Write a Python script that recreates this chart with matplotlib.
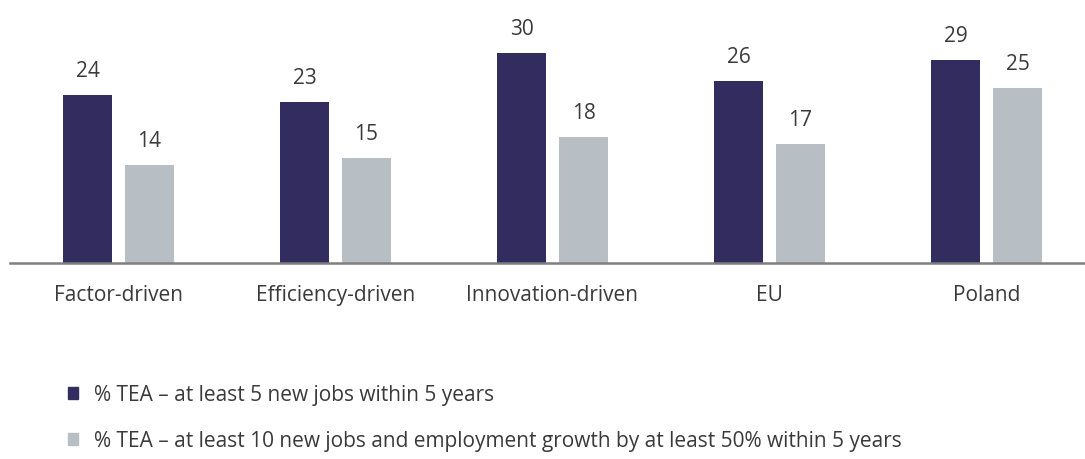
import numpy as np
import matplotlib.pyplot as plt
from matplotlib.patches import Patch

# Share of TEA with high job-growth expectations, by economy group
categories = ['Factor-driven', 'Efficiency-driven', 'Innovation-driven', 'EU', 'Poland']
jobs_5 = [24, 23, 30, 26, 29]
jobs_10 = [14, 15, 18, 17, 25]
series_labels = ['% TEA \u2013 at least 5 new jobs within 5 years',
                 '% TEA \u2013 at least 10 new jobs and employment growth by at least 50% within 5 years']

dark = '#332c5e'
light = '#b7bec4'
text_col = '#3a3a3a'
fs = 15

plt.rcParams['font.family'] = ['Open Sans', 'DejaVu Sans']

fig = plt.figure(figsize=(10.85, 4.59), dpi=100)
ax = fig.add_axes([10 / 1085, 1 - 263 / 459, 1075 / 1085, 263 / 459])

x = np.arange(len(categories))
w = 0.226
off = 0.143
b1 = ax.bar(x - off, jobs_5, w, color=dark)
b2 = ax.bar(x + off, jobs_10, w, color=light)

for bars, vals in [(b1, jobs_5), (b2, jobs_10)]:
    for b, v in zip(bars, vals):
        ax.text(b.get_x() + b.get_width() / 2, v + 1.9, str(v), ha='center', va='bottom',
                fontsize=fs, color=text_col)

ax.set_xlim(-0.5, 4.454)
ax.set_ylim(0, 263 / 7)
ax.set_xticks(x)
ax.set_xticklabels(categories, fontsize=fs, color=text_col)
ax.tick_params(axis='x', length=0, pad=16)
ax.set_yticks([])
for s in ['top', 'right', 'left']:
    ax.spines[s].set_visible(False)
ax.spines['bottom'].set_color('#7f7f7f')
ax.spines['bottom'].set_linewidth(1.8)

handles = [Patch(color=dark), Patch(color=light)]
fig.legend(handles, series_labels, loc='upper left', bbox_to_anchor=(49 / 1085, 1 - 366 / 459),
           frameon=False, fontsize=fs, handlelength=0.5, handleheight=0.5,
           handletextpad=0.75, labelspacing=1.2, labelcolor=text_col)

fig.savefig('out.png', dpi=100)
